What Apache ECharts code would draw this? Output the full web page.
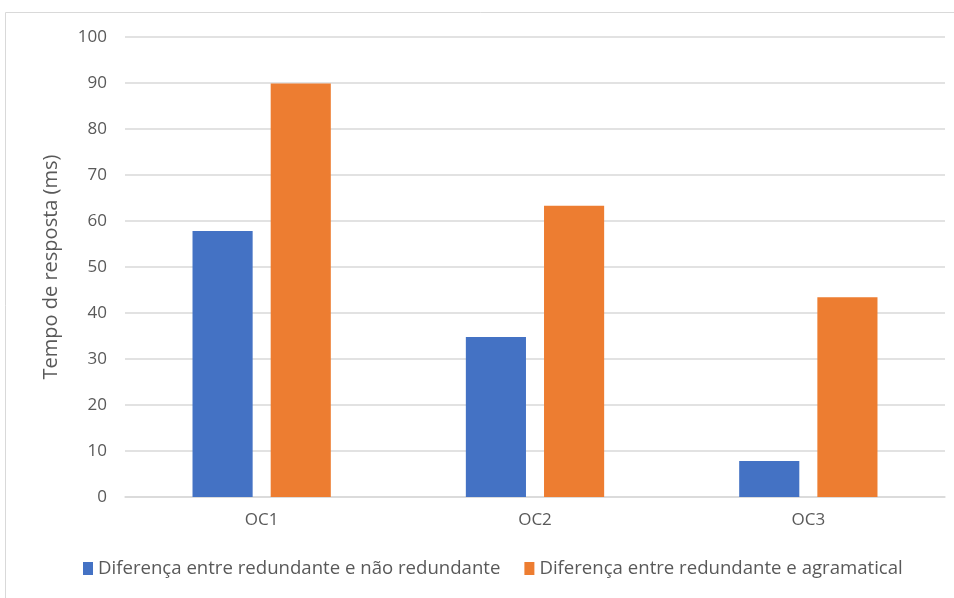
<!DOCTYPE html>
<html>
<head>
<meta charset="utf-8">
<script src="https://cdn.jsdelivr.net/npm/echarts@6/dist/echarts.min.js"></script>
<style>
  html, body { margin: 0; padding: 0; background: #ffffff; }
  #chart { width: 954px; height: 598px; }
</style>
</head>
<body>
<div id="chart"></div>
<script>
// Categories and series values
const categories = ['OC1', 'OC2', 'OC3'];
const seriesNames = ['Diferença entre redundante e não redundante', 'Diferença entre redundante e agramatical'];
const naoRedundante = [57.8, 34.8, 7.8];
const agramatical = [89.9, 63.3, 43.4];
const yTicks = [0, 10, 20, 30, 40, 50, 60, 70, 80, 90, 100];

const textColor = '#595959';
const fontFamily = 'Open Sans, Noto Sans, sans-serif';

const chart = echarts.init(document.getElementById('chart'), null, { renderer: 'canvas' });
chart.setOption({
  backgroundColor: '#ffffff',
  animation: false,
  graphic: [{
    type: 'rect',
    shape: { x: 5.5, y: 12.5, width: 960, height: 590 },
    style: { fill: 'none', stroke: '#d9d9d9', lineWidth: 1 },
    silent: true
  }],
  grid: { left: 125, right: 9, top: 37, bottom: 101 },
  legend: {
    bottom: 15,
    left: 78,
    itemWidth: 10,
    itemHeight: 13,
    itemGap: 24,
    icon: 'rect',
    textStyle: { color: textColor, fontSize: 18.6, fontFamily: fontFamily },
    data: seriesNames
  },
  xAxis: {
    type: 'category',
    data: categories,
    axisLine: { show: true, lineStyle: { color: '#d9d9d9', width: 1.5 } },
    axisTick: { show: false },
    axisLabel: { color: textColor, fontSize: 17, fontFamily: fontFamily, margin: 15 }
  },
  yAxis: {
    type: 'value',
    min: yTicks[0],
    max: yTicks[yTicks.length - 1],
    interval: 10,
    name: 'Tempo de resposta (ms)',
    nameLocation: 'middle',
    nameGap: 64,
    nameTextStyle: { color: textColor, fontSize: 20, fontFamily: fontFamily },
    axisLine: { show: false },
    axisTick: { show: false },
    axisLabel: { color: textColor, fontSize: 17, fontFamily: fontFamily, margin: 18 },
    splitLine: { lineStyle: { color: '#d9d9d9', width: 1.5 } }
  },
  series: [
    {
      name: seriesNames[0],
      type: 'bar',
      data: naoRedundante,
      barWidth: '22%',
      barGap: '30%',
      itemStyle: { color: '#4472c4' }
    },
    {
      name: seriesNames[1],
      type: 'bar',
      data: agramatical,
      barWidth: '22%',
      barGap: '30%',
      itemStyle: { color: '#ed7d31' }
    }
  ]
});
</script>
</body>
</html>
